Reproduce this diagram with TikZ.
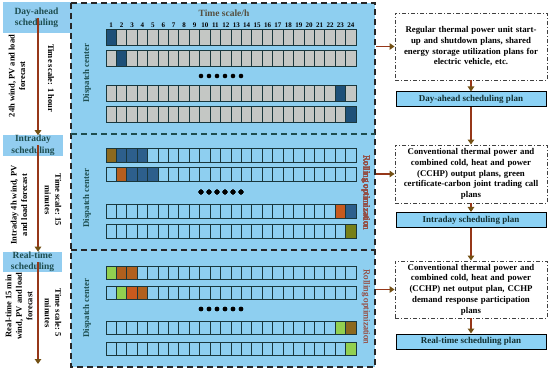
\documentclass[tikz,border=0pt]{standalone}
\usepackage{fontspec}
\setmainfont{Liberation Serif}
\usetikzlibrary{arrows.meta,positioning}
\definecolor{panelblue}{RGB}{142,207,240}
\definecolor{boxblue}{RGB}{146,205,240}
\definecolor{planblue}{RGB}{140,210,245}
\definecolor{cellgray}{RGB}{196,199,196}
\definecolor{cellline}{RGB}{25,55,60}
\definecolor{dkblue}{RGB}{30,80,120}
\definecolor{midblue}{RGB}{45,95,140}
\definecolor{olivebrown}{RGB}{140,105,30}
\definecolor{burnt}{RGB}{200,90,30}
\definecolor{ltgreen}{RGB}{146,208,80}
\definecolor{arrowred}{RGB}{150,55,25}
\definecolor{arrowtip}{RGB}{115,80,20}
\definecolor{tealtext}{RGB}{30,78,80}
\definecolor{rolltext}{RGB}{150,80,70}
\definecolor{scaletext}{RGB}{85,80,65}

\newcommand{\cellrow}[3]{% top y, height, fill
  \foreach \i in {1,...,24}
    \draw[cell,fill=#3] ({106+(\i-1)*10.42},#1) rectangle ++(10.42,#2);}
\newcommand{\paintcell}[4]{% top y, height, index, fill
  \draw[cell,fill=#4] ({106+(#3-1)*10.42},#1) rectangle ++(10.42,#2);}
\newcommand{\dotrow}[1]{%
  \foreach \k in {0,...,5} \fill ({201+\k*8},#1) circle (2.3);}

\begin{document}
\begin{tikzpicture}[x=1pt,y=-1pt,font=\bfseries\fontsize{8.8}{10.7}\selectfont,
  flow/.style={arrowred,line width=1.3pt,-{Triangle[length=5pt,width=6.5pt,color=arrowtip]}},
  cell/.style={draw=cellline,line width=0.9pt},
  lefthead/.style={fill=boxblue,text=tealtext,align=center,inner sep=0pt,
    font=\bfseries\fontsize{9.5}{11.5}\selectfont},
  sidenote/.style={align=center,inner sep=0pt,font=\bfseries\fontsize{8.5}{10.5}\selectfont},
  dc/.style={rotate=90,text=tealtext,inner sep=0pt,font=\bfseries\fontsize{8.8}{10}\selectfont},
  rolling/.style={rotate=-90,text=rolltext,inner sep=0pt,font=\fontsize{9}{10}\selectfont},
  outbox/.style={draw=black!75,line width=0.9pt,dash pattern=on 4pt off 2pt on 1pt off 2pt,
    align=center,text width=150pt,minimum width=152pt,inner sep=1pt},
  planbox/.style={draw=black,line width=1pt,fill=planblue,text=tealtext!60!black,
    minimum width=150pt,minimum height=15pt,inner sep=0pt,font=\bfseries\fontsize{9}{10}\selectfont}]
\useasboundingbox (0,0) rectangle (550,369);

% left column
\node[lefthead,minimum width=68pt,minimum height=31pt] (dayhead) at (36.5,18) {Day-ahead\\scheduling};
\node[lefthead,minimum width=60pt,minimum height=20pt] (intrahead) at (33,145.5) {Intraday\\scheduling};
\node[lefthead,minimum width=59pt,minimum height=20pt] (realhead) at (32.5,262) {Real-time\\scheduling};
\coordinate (lane) at (38,0);
\coordinate (laneend) at (38,364);
\draw[flow] (lane |- dayhead.center) -- (lane |- intrahead.north);
\draw[flow] (lane |- intrahead.center) -- (lane |- realhead.north);
\draw[flow] (lane |- realhead.center) -- (laneend);
\node[sidenote,rotate=90] (dayfc) at (17,76) {24h wind, PV and load\\forecast};
\node[sidenote,rotate=-90] (dayts) at (51,78) {Time scale: 1 hour};
\node[sidenote,rotate=90] (intrafc) at (19,205) {Intraday 4h wind, PV\\and load forecast};
\node[sidenote,rotate=-90] (intrats) at (53,200) {Time scale: 15\\minutes};
\node[sidenote,rotate=90] (realfc) at (19,306) {Real-time 15 min\\wind, PV and load\\forecast};
\node[sidenote,rotate=-90] (realts) at (53,313) {Time scale: 5\\minutes};

% dispatch panel
\fill[panelblue] (71,3) rectangle (375,367);
\draw[black!85,line width=1.2pt,dash pattern=on 6pt off 4pt] (71,3) rectangle (375,367);
\draw[tealtext,line width=1.2pt,dash pattern=on 6pt off 4pt] (71,134) -- (375,134);
\draw[black!85,line width=1.2pt,dash pattern=on 6pt off 4pt] (71,250) -- (375,250);
\node[dc] (dc1) at (87,73) {Dispatch center};
\node[dc] (dc2) at (87,198) {Dispatch center};
\node[dc] (dc3) at (87,308) {Dispatch center};
\node[text=scaletext,font=\bfseries\fontsize{9.5}{10}\selectfont] (tsh) at (224,13) {Time scale/h};
\foreach \i in {1,...,24}
  \node[inner sep=0pt,font=\bfseries\fontsize{7}{7}\selectfont] (hr\i) at ({106+(\i-0.5)*10.42},25) {\i};

% day-ahead rows
\cellrow{29}{16}{cellgray}
\cellrow{50}{16}{cellgray}
\cellrow{85}{16}{cellgray}
\cellrow{106}{16}{cellgray}
\paintcell{29}{16}{1}{dkblue}
\paintcell{50}{16}{2}{dkblue}
\paintcell{85}{16}{23}{dkblue}
\paintcell{106}{16}{24}{dkblue}
\dotrow{76}

% intraday rows
\cellrow{148}{14}{panelblue}
\cellrow{167}{14}{panelblue}
\cellrow{204}{14}{panelblue}
\cellrow{224}{14}{panelblue}
\paintcell{148}{14}{1}{olivebrown}
\foreach \i in {2,3,4} \paintcell{148}{14}{\i}{midblue}
\paintcell{167}{14}{2}{burnt!70!olivebrown}
\foreach \i in {3,4,5} \paintcell{167}{14}{\i}{midblue}
\paintcell{204}{14}{23}{burnt}
\paintcell{204}{14}{24}{midblue}
\paintcell{224}{14}{24}{olivebrown!85!green}
\dotrow{192}
\node[rolling] (roll2) at (366,193) {Rolling optimization};

% real-time rows
\cellrow{266}{13}{panelblue}
\cellrow{286}{13}{panelblue}
\cellrow{321}{13}{panelblue}
\cellrow{342}{13}{panelblue}
\paintcell{266}{13}{1}{ltgreen}
\foreach \i in {2,3} \paintcell{266}{13}{\i}{burnt!60!olivebrown}
\paintcell{286}{13}{2}{ltgreen}
\paintcell{286}{13}{3}{burnt}
\paintcell{286}{13}{4}{burnt!60!olivebrown}
\paintcell{321}{13}{23}{ltgreen}
\paintcell{321}{13}{24}{olivebrown}
\paintcell{342}{13}{24}{ltgreen}
\dotrow{309}
\node[rolling] (roll3) at (366,307) {Rolling optimization};

% right column
\coordinate (panelE) at (376,0);
\node[outbox,minimum height=67pt] (dayout) at (471,46.5) {Regular thermal power unit start-\\up and shutdown plans, shared\\energy storage utilization plans for\\electric vehicle, etc.};
\node[planbox] (dayplan) at (471,99.5) {Day-ahead scheduling plan};
\node[outbox,minimum height=58pt] (intraout) at (471,174) {Conventional thermal power and\\combined cold, heat and power\\(CCHP) output plans, green\\certificate-carbon joint trading call\\plans};
\node[planbox] (intraplan) at (471,220) {Intraday scheduling plan};
\node[outbox,minimum height=57pt] (realout) at (471,289.5) {Conventional thermal power and\\combined cold, heat and power\\(CCHP) net output plan, CCHP\\demand response participation\\plans};
\node[planbox] (realplan) at (471,341.5) {Real-time scheduling plan};
\draw[flow] (panelE |- dayout.west) -- (dayout.west);
\draw[flow] (panelE |- intraout.west) -- (intraout.west);
\draw[flow] (panelE |- realout.west) -- (realout.west);
\draw[flow] (dayout) -- (dayplan);
\draw[flow] (dayplan) -- (intraout);
\draw[flow] (intraout) -- (intraplan);
\draw[flow] (intraplan) -- (realout);
\draw[flow] (realout) -- (realplan);
\end{tikzpicture}
\end{document}
